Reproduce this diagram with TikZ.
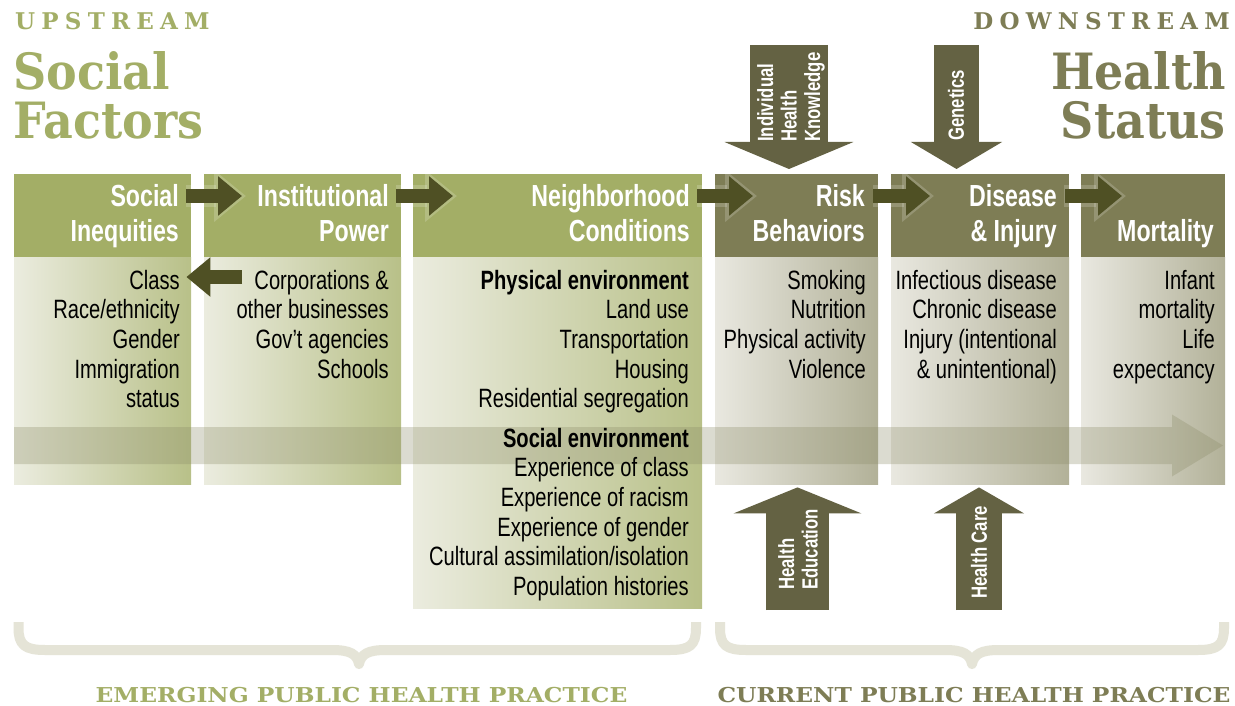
\documentclass[tikz,border=0pt]{standalone}
\usepackage{fontspec}
\usetikzlibrary{arrows.meta,calc}
\newfontfamily\cond[FakeStretch=0.76]{Liberation Sans}
\newfontfamily\slab[FakeStretch=0.92]{DejaVu Serif}
\newfontfamily\slabsp[LetterSpace=27]{DejaVu Serif}
\newfontfamily\slabwide[FakeStretch=1.14]{DejaVu Serif}
\definecolor{upg}{HTML}{A3AE66}
\definecolor{dng}{HTML}{7E7D55}
\definecolor{upL}{HTML}{EBECDF}
\definecolor{upR}{HTML}{B8C088}
\definecolor{dnL}{HTML}{E9E8E0}
\definecolor{dnR}{HTML}{B2B198}
\definecolor{arrdk}{HTML}{4F5024}
\definecolor{arrv}{HTML}{646243}
\definecolor{bracec}{HTML}{E5E4D7}
\definecolor{bigar}{HTML}{8A8A66}
\tikzset{
  hdrup/.style={fill=upg, minimum height=83pt, inner sep=0pt, anchor=north west},
  hdrdn/.style={fill=dng, minimum height=83pt, inner sep=0pt, anchor=north west},
  bodyup/.style={left color=upL, right color=upR, inner sep=0pt, anchor=north west},
  bodydn/.style={left color=dnL, right color=dnR, inner sep=0pt, anchor=north west},
  htext/.style={font=\cond\bfseries\fontsize{30.5}{35}\selectfont, text=white, align=right, anchor=north east, inner sep=0pt},
  btext/.style={font=\cond\fontsize{26.5}{29.7}\selectfont, text=black, align=right, anchor=north east, inner sep=0pt},
  vtext/.style={font=\cond\bfseries\fontsize{22}{23.5}\selectfont, text=white, align=left, anchor=west, rotate=90, inner sep=0pt},
  conn/.style={draw=arrdk, line width=14pt, -{Triangle[width=38pt,length=24pt]}},
  glow/.style={draw=white, opacity=0.18, line width=22pt, -{Triangle[width=50pt,length=32pt]}},
  vconn/.style={draw=arrv},
  brace/.style={draw=bracec, line width=10pt, line join=round},
  title/.style={font=\slab\bfseries\fontsize{50}{50}\selectfont, inner sep=0pt},
  spaced/.style={font=\slabsp\bfseries\fontsize{23}{23}\selectfont, inner sep=0pt},
  foot/.style={font=\slabwide\bfseries\fontsize{20.5}{20.5}\selectfont, inner sep=0pt, anchor=base},
}
\begin{document}
\begin{tikzpicture}[x=1pt,y=-1pt]
\useasboundingbox (0,0) rectangle (1235,706);
\fill[white] (0,0) rectangle (1235,706);

% titles
\node[spaced, anchor=base west, text=upg] (up) at (15,30) {UPSTREAM};
\node[spaced, anchor=base east, text=dng] (down) at (1230,30) {DOWNSTREAM};
\node[title, anchor=base west, text=upg] (sf1) at (13,90) {Social};
\node[title, anchor=base west, text=upg] (sf2) at (13,139) {Factors};
\node[title, anchor=base east, text=dng] (hs1) at (1226,90) {Health};
\node[title, anchor=base east, text=dng] (hs2) at (1226,139) {Status};

% bodies
\node[bodyup, minimum width=177pt, minimum height=227pt] (b1) at (14,257) {};
\node[bodyup, minimum width=197pt, minimum height=227pt] (b2) at (204,257) {};
\node[bodyup, minimum width=289pt, minimum height=351pt] (b3) at (413,257) {};
\node[bodydn, minimum width=163pt, minimum height=227pt] (b4) at (715,257) {};
\node[bodydn, minimum width=178pt, minimum height=227pt] (b5) at (891,257) {};
\node[bodydn, minimum width=144pt, minimum height=227pt] (b6) at (1081,257) {};

% headers
\node[hdrup, minimum width=177pt] (h1) at (14,174) {};
\node[hdrup, minimum width=197pt] (h2) at (204,174) {};
\node[hdrup, minimum width=289pt] (h3) at (413,174) {};
\node[hdrdn, minimum width=163pt] (h4) at (715,174) {};
\node[hdrdn, minimum width=178pt] (h5) at (891,174) {};
\node[hdrdn, minimum width=144pt] (h6) at (1081,174) {};

% big translucent arrow
\coordinate (bs) at (14,445.5);
\coordinate (be) at (1223,445.5);
\fill[bigar, opacity=0.3] ($(bs)+(0,-18.5)$) -- ($(be)+(-51,-18.5)$) -- ($(be)+(-51,-31)$) -- (be) -- ($(be)+(-51,31)$) -- ($(be)+(-51,18.5)$) -- ($(bs)+(0,18.5)$) -- cycle;

% header texts
\node[htext] (t1) at (179,181.5) {\strut Social\\Inequities};
\node[htext] (t2) at (389,181.5) {\strut Institutional\\Power};
\node[htext] (t3) at (690,181.5) {\strut Neighborhood\\Conditions};
\node[htext] (t4) at (865,181.5) {\strut Risk\\Behaviors};
\node[htext] (t5) at (1057,181.5) {\strut Disease\\\&~Injury};
\node[htext] (t6) at (1214,216.5) {\strut Mortality};

% body texts
\node[btext] (c1) at (180,268.2) {\strut Class\\Race/ethnicity\\Gender\\Immigration\\status};
\node[btext] (c2) at (389,268.2) {\strut Corporations \&\\other businesses\\Gov’t agencies\\Schools};
\node[btext] (c3a) at (689,268.2) {\strut\textbf{Physical environment}\\Land use\\Transportation\\Housing\\Residential segregation};
\node[btext] (c3b) at (689,426.2) {\strut\textbf{Social environment}\\Experience of class\\Experience of racism\\Experience of gender\\Cultural assimilation/isolation\\Population histories};
\node[btext] (c4) at (866,268.2) {\strut Smoking\\Nutrition\\Physical activity\\Violence};
\node[btext] (c5) at (1057,268.2) {\strut Infectious disease\\Chronic disease\\Injury (intentional\\\&~unintentional)};
\node[btext] (c6) at (1215,268.2) {\strut Infant\\mortality\\Life\\expectancy};

% header arrows
\foreach \a/\b/\dx in {h1/h2/38, h2/h3/40, h3/h4/38, h4/h5/39, h5/h6/41}{
  \draw[glow] ($(\a.north east)+(-5,22)$) -- ($(\b.north west)+(\dx+4,22)$);
}
\draw[conn] ($(h1.north east)+(-5,22)$) -- ($(h2.north west)+(38,22)$);
\draw[conn] ($(h2.north east)+(-5,22)$) -- ($(h3.north west)+(40,22)$);
\draw[conn] ($(h3.north east)+(-5,22)$) -- ($(h4.north west)+(38,22)$);
\draw[conn] ($(h4.north east)+(-5,22)$) -- ($(h5.north west)+(39,22)$);
\draw[conn] ($(h5.north east)+(-4,22)$) -- ($(h6.north west)+(41,22)$);
% back arrow
\draw[conn] ($(b2.north west)+(38,20)$) -- ($(b1.north east)+(-5,20)$);

% vertical arrows
\coordinate (ihk) at (789,45);
\coordinate (gen) at (956.5,45);
\coordinate (hed) at (797.5,610);
\coordinate (hca) at (979,610);
\draw[vconn, line width=78pt, -{Triangle[width=128pt,length=27pt]}] (ihk) -- (ihk |- {$(h4.north)+(0,-5)$});
\draw[vconn, line width=45pt, -{Triangle[width=90pt,length=27pt]}] (gen) -- (gen |- {$(h5.north)+(0,-5)$});
\draw[vconn, line width=63pt, -{Triangle[width=127pt,length=26pt]}] (hed) -- (hed |- {$(b4.south)+(0,3)$});
\draw[vconn, line width=46pt, -{Triangle[width=89pt,length=26pt]}] (hca) -- (hca |- {$(b5.south)+(0,3)$});
\node[vtext] (l1) at (791,142) {Individual\\Health\\Knowledge};
\node[vtext] (l2) at (956,141) {Genetics};
\node[vtext] (l3) at (798,590) {Health\\Education};
\node[vtext] (l4) at (979,599) {Health Care};

% braces
\draw[brace] (18.5,622) -- (18.5,628) .. controls (18.5,645) and (25,650) .. (45,650) -- (332,650) .. controls (350,650) and (357,654) .. (359,664) .. controls (361,654) and (368,650) .. (386,650) -- (670,650) .. controls (690,650) and (696,645) .. (696,628) -- (696,622);
\draw[brace] (720,622) -- (720,628) .. controls (720,645) and (726,650) .. (746,650) -- (945,650) .. controls (963,650) and (970,654) .. (972,664) .. controls (974,654) and (981,650) .. (999,650) -- (1198,650) .. controls (1218,650) and (1224,645) .. (1224,628) -- (1224,622);

% footer labels
\node[foot, text=upg] (em) at (361.5,702) {EMERGING PUBLIC HEALTH PRACTICE};
\node[foot, text=dng] (cu) at (974,702) {CURRENT PUBLIC HEALTH PRACTICE};
\end{tikzpicture}
\end{document}
